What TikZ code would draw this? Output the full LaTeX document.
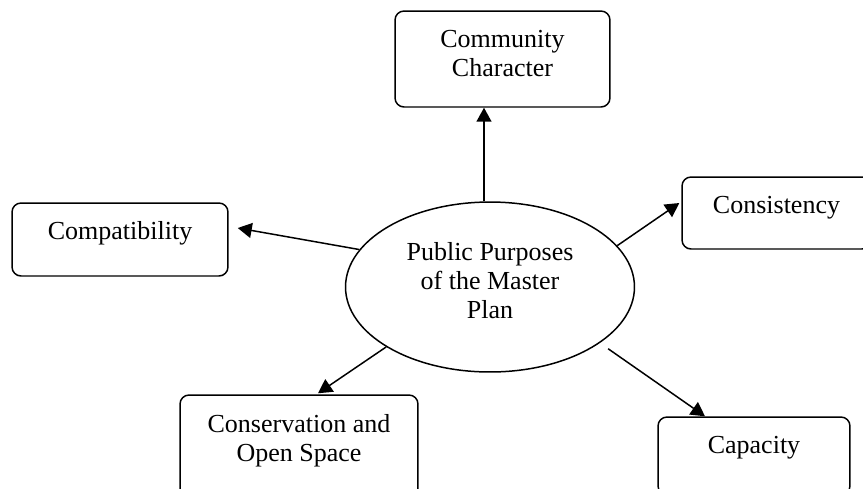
\documentclass[tikz,border=0pt]{standalone}
\usepackage{fontspec}
\setmainfont{Liberation Serif}
\usetikzlibrary{shapes,arrows.meta,calc}

% zero width strut that pushes the last line down
\newcommand{\lowedge}[1]{\rule[-#1]{0pt}{#1}}

\tikzset{
  plan/.style={draw=black, line width=0.85pt, rounded corners=0.18cm, align=center, inner sep=0pt},
  oneline/.style={text height=9pt, text depth=9pt},
  purpose/.style={draw=black, line width=0.85pt, ellipse, align=center, inner sep=0pt,
                  minimum width=5.78cm, minimum height=3.4cm},
  toward/.style={-{Triangle[length=0.28cm,width=0.3cm]}, line width=0.85pt}
}

\begin{document}
\begin{tikzpicture}[x=0.02cm, y=-0.02cm, font=\fontsize{14.8}{16.4}\selectfont]
\useasboundingbox (0,0) rectangle (863,488);

\node[purpose] (hub) at (490,287) {Public Purposes\\of the Master\\Plan\lowedge{7.5pt}};

\node[plan, minimum width=4.3cm, minimum height=1.92cm] (comm) at (502.5,59) {Community\\Character\lowedge{6pt}};
\node[plan, oneline, minimum width=4.32cm, minimum height=1.46cm] (compat) at (120,239.5) {Compatibility};
\node[plan, oneline, minimum width=3.78cm, minimum height=1.44cm] (consist) at (776.5,213) {Consistency};
\node[plan, minimum width=4.76cm, minimum height=2.04cm] (conserv) at (299,446) {Conservation and\\Open Space\lowedge{9.4pt}};
\node[plan, oneline, text depth=12.4pt, minimum width=3.84cm, minimum height=1.56cm] (capac) at (754,456) {Capacity};

% arrows out of the ellipse
\coordinate (hubtop) at ($(hub.north)+(-6,0)$);
\draw[toward] (hubtop) -- (hubtop |- comm.south);
\draw[toward] (hub.164) -- ($(compat.east)+(9,-11.5)$);
\draw[toward] (hub.18) -- ($(consist.west)+(-2,-10)$);
\draw[toward] (hub.210) -- ($(conserv.north)+(19,-1)$);
\draw[toward, shorten <=0.2cm] (hub.-27) -- ($(capac.north)+(-49,0)$);
\end{tikzpicture}
\end{document}
